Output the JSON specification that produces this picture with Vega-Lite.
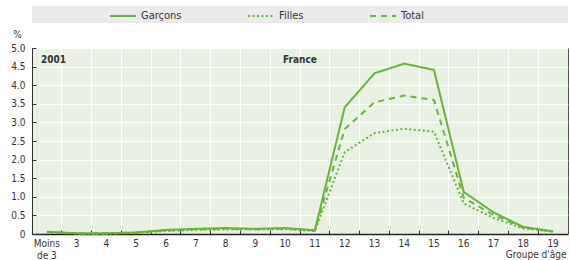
{
  "$schema": "https://vega.github.io/schema/vega-lite/v6.json",
  "background": "white",
  "padding": {"left": 10, "top": 2, "right": 1, "bottom": 0},
  "bounds": "flush",
  "spacing": 25,
  "config": {
    "font": "Liberation Sans Narrow, DejaVu Sans Condensed, sans-serif",
    "view": {"stroke": null},
    "axis": {"labelOverlap": false}
  },
  "vconcat": [
    {
      "width": 536,
      "height": 17,
      "view": {"fill": "#ebebeb", "stroke": null},
      "data": {"values": [{"blank": ""}]},
      "mark": {"type": "text"},
      "encoding": {"text": {"field": "blank"}}
    },
    {
      "width": 536,
      "height": 186,
      "view": {"fill": "#e9f1e2", "stroke": "#555555"},
      "layer": [
        {
          "data": {
            "values": [
              {"age": "Moins de 3", "series": "Garçons", "value": 0.06},
              {"age": "3", "series": "Garçons", "value": 0.02},
              {"age": "4", "series": "Garçons", "value": 0.02},
              {"age": "5", "series": "Garçons", "value": 0.04},
              {"age": "6", "series": "Garçons", "value": 0.11},
              {"age": "7", "series": "Garçons", "value": 0.14},
              {"age": "8", "series": "Garçons", "value": 0.16},
              {"age": "9", "series": "Garçons", "value": 0.14},
              {"age": "10", "series": "Garçons", "value": 0.16},
              {"age": "11", "series": "Garçons", "value": 0.1},
              {"age": "12", "series": "Garçons", "value": 3.4},
              {"age": "13", "series": "Garçons", "value": 4.32},
              {"age": "14", "series": "Garçons", "value": 4.58},
              {"age": "15", "series": "Garçons", "value": 4.41},
              {"age": "16", "series": "Garçons", "value": 1.13},
              {"age": "17", "series": "Garçons", "value": 0.58},
              {"age": "18", "series": "Garçons", "value": 0.19},
              {"age": "19", "series": "Garçons", "value": 0.07},
              {"age": "Moins de 3", "series": "Filles", "value": 0.04},
              {"age": "3", "series": "Filles", "value": 0.01},
              {"age": "4", "series": "Filles", "value": 0.01},
              {"age": "5", "series": "Filles", "value": 0.03},
              {"age": "6", "series": "Filles", "value": 0.08},
              {"age": "7", "series": "Filles", "value": 0.11},
              {"age": "8", "series": "Filles", "value": 0.12},
              {"age": "9", "series": "Filles", "value": 0.12},
              {"age": "10", "series": "Filles", "value": 0.13},
              {"age": "11", "series": "Filles", "value": 0.08},
              {"age": "12", "series": "Filles", "value": 2.2},
              {"age": "13", "series": "Filles", "value": 2.71},
              {"age": "14", "series": "Filles", "value": 2.83},
              {"age": "15", "series": "Filles", "value": 2.75},
              {"age": "16", "series": "Filles", "value": 0.82},
              {"age": "17", "series": "Filles", "value": 0.43},
              {"age": "18", "series": "Filles", "value": 0.15},
              {"age": "19", "series": "Filles", "value": 0.06},
              {"age": "Moins de 3", "series": "Total", "value": 0.05},
              {"age": "3", "series": "Total", "value": 0.015},
              {"age": "4", "series": "Total", "value": 0.015},
              {"age": "5", "series": "Total", "value": 0.035},
              {"age": "6", "series": "Total", "value": 0.095},
              {"age": "7", "series": "Total", "value": 0.125},
              {"age": "8", "series": "Total", "value": 0.14},
              {"age": "9", "series": "Total", "value": 0.13},
              {"age": "10", "series": "Total", "value": 0.145},
              {"age": "11", "series": "Total", "value": 0.09},
              {"age": "12", "series": "Total", "value": 2.82},
              {"age": "13", "series": "Total", "value": 3.54},
              {"age": "14", "series": "Total", "value": 3.72},
              {"age": "15", "series": "Total", "value": 3.6},
              {"age": "16", "series": "Total", "value": 0.97},
              {"age": "17", "series": "Total", "value": 0.51},
              {"age": "18", "series": "Total", "value": 0.17},
              {"age": "19", "series": "Total", "value": 0.065}
            ]
          },
          "mark": {"type": "line", "strokeWidth": 2, "color": "#68b33e"},
          "encoding": {
            "x": {
              "field": "age",
              "type": "ordinal",
              "sort": ["Moins de 3", "3", "4", "5", "6", "7", "8", "9", "10", "11", "12", "13", "14", "15", "16", "17", "18", "19"],
              "scale": {"type": "band", "paddingInner": 0, "paddingOuter": 0},
              "axis": {
                "title": "Groupe d'âge",
                "bandPosition": 0,
                "labelAngle": 0,
                "labelOverlap": false,
                "labelBound": false,
                "labelFlush": false,
                "labelExpr": "datum.label == 'Moins de 3' ? ['Moins', 'de 3'] : datum.label",
                "labelLineHeight": 12,
                "labelFontSize": 10,
                "labelColor": "#333333",
                "labelPadding": 8,
                "grid": true,
                "gridColor": "white",
                "gridWidth": 1,
                "tickSize": -4,
                "tickColor": "#333333",
                "domainColor": "#222222",
                "domainWidth": 1.5,
                "titleFontSize": 10,
                "titleFontWeight": "normal",
                "titleColor": "#333333",
                "titleAnchor": "end",
                "titleAlign": "right",
                "titleBaseline": "alphabetic",
                "titleX": 534,
                "titleY": 23
              }
            },
            "y": {
              "field": "value",
              "type": "quantitative",
              "scale": {"domain": [0, 5], "nice": false},
              "axis": {
                "title": "%",
                "titleAngle": 0,
                "titleX": -15,
                "titleY": -14,
                "titleAlign": "center",
                "titleBaseline": "middle",
                "titleFontSize": 10,
                "titleFontWeight": "normal",
                "titleColor": "#333333",
                "values": [0, 0.5, 1, 1.5, 2, 2.5, 3, 3.5, 4, 4.5, 5],
                "labelExpr": "datum.value == 0 ? '0' : format(datum.value, '.1f')",
                "labelOverlap": false,
                "labelFontSize": 10,
                "labelColor": "#333333",
                "labelPadding": 11,
                "grid": true,
                "gridColor": "white",
                "gridWidth": 1,
                "tickSize": -4,
                "tickColor": "#333333",
                "domainColor": "#333333"
              }
            },
            "strokeDash": {
              "field": "series",
              "type": "nominal",
              "scale": {"domain": ["Garçons", "Filles", "Total"], "range": [[1, 0], [2, 2.5], [6, 5]]},
              "legend": {
                "orient": "none",
                "legendX": 77,
                "legendY": -4,
                "direction": "horizontal",
                "title": null,
                "symbolType": "stroke",
                "symbolStrokeColor": "#68b33e",
                "symbolStrokeWidth": 2,
                "symbolSize": 676,
                "labelFontSize": 11,
                "labelColor": "#333333",
                "labelOffset": 4,
                "columnPadding": 62
              }
            }
          }
        },
        {
          "data": {"values": [{}]},
          "mark": {"type": "text", "fontWeight": "bold", "fontSize": 10, "color": "#333333", "align": "left", "baseline": "middle", "dx": 9},
          "encoding": {
            "x": {"datum": "Moins de 3", "bandPosition": 0},
            "y": {
              "datum": 4.68,
              "type": "quantitative",
              "axis": {
                "title": "%",
                "titleAngle": 0,
                "titleX": -15,
                "titleY": -14,
                "titleAlign": "center",
                "titleBaseline": "middle",
                "titleFontSize": 10,
                "titleFontWeight": "normal",
                "titleColor": "#333333",
                "values": [0, 0.5, 1, 1.5, 2, 2.5, 3, 3.5, 4, 4.5, 5],
                "labelExpr": "datum.value == 0 ? '0' : format(datum.value, '.1f')",
                "labelOverlap": false,
                "labelFontSize": 10,
                "labelColor": "#333333",
                "labelPadding": 11,
                "grid": true,
                "gridColor": "white",
                "gridWidth": 1,
                "tickSize": -4,
                "tickColor": "#333333",
                "domainColor": "#333333"
              }
            },
            "text": {"value": "2001"}
          }
        },
        {
          "data": {"values": [{}]},
          "mark": {"type": "text", "fontWeight": "bold", "fontSize": 10, "color": "#333333", "align": "center", "baseline": "middle"},
          "encoding": {
            "x": {"datum": "11", "bandPosition": 0},
            "y": {
              "datum": 4.68,
              "type": "quantitative",
              "axis": {
                "title": "%",
                "titleAngle": 0,
                "titleX": -15,
                "titleY": -14,
                "titleAlign": "center",
                "titleBaseline": "middle",
                "titleFontSize": 10,
                "titleFontWeight": "normal",
                "titleColor": "#333333",
                "values": [0, 0.5, 1, 1.5, 2, 2.5, 3, 3.5, 4, 4.5, 5],
                "labelExpr": "datum.value == 0 ? '0' : format(datum.value, '.1f')",
                "labelOverlap": false,
                "labelFontSize": 10,
                "labelColor": "#333333",
                "labelPadding": 11,
                "grid": true,
                "gridColor": "white",
                "gridWidth": 1,
                "tickSize": -4,
                "tickColor": "#333333",
                "domainColor": "#333333"
              }
            },
            "text": {"value": "France"}
          }
        }
      ]
    }
  ]
}
